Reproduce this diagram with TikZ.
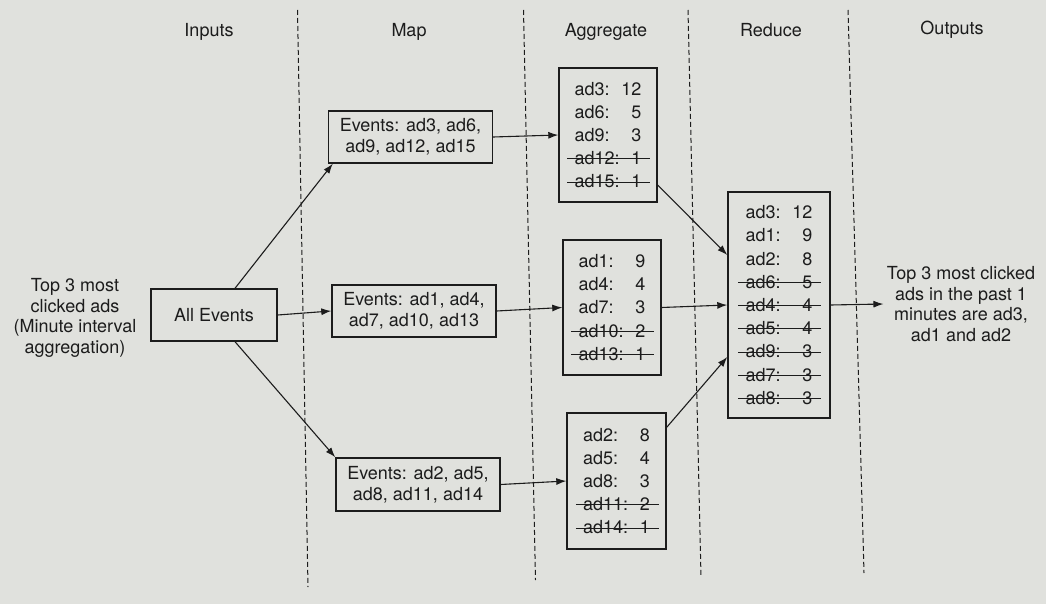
\documentclass[tikz,border=0pt]{standalone}
\usepackage{fontspec}
\setmainfont{TeX Gyre Heros}
\usetikzlibrary{arrows.meta,positioning}
\definecolor{paper}{RGB}{224,225,221}
\definecolor{ink}{RGB}{28,28,28}
% one row of a count table, and the same row struck out
\newcommand{\cnt}[2]{\makebox[2.6em][l]{#1}\makebox[1.12em][r]{#2}}
\newcommand{\cntx}[2]{\makebox[0pt][l]{\hspace{-0.4em}\rule[0.3em]{4.6em}{0.8pt}}\cnt{#1}{#2}}

\begin{document}
\begin{tikzpicture}[x=1pt,y=-1pt,
  every node/.style={text=ink,font=\fontsize{18}{20.7}\selectfont},
  box/.style={draw=ink,line width=1.4pt,inner sep=0pt,align=center},
  tally/.style={box,font=\fontsize{18}{23.2}\selectfont},
  flow/.style={draw=ink,line width=1.1pt,-{Latex[length=10pt,width=7pt]}},
  lane/.style={draw=ink,line width=1pt,dash pattern=on 5pt off 3pt}]
\fill[paper] (0,0) rectangle (1046,604);
% lanes
\foreach \xa/\xb/\yb in {297.5/308/587, 523.5/535.5/580, 688/701/577, 848/864/573}
  \draw[lane] (\xa,10) -- (\xb,\yb);
\node (h1) at (209,32) {Inputs};
\node (h2) at (409,32) {Map};
\node (h3) at (606,32) {Aggregate};
\node (h4) at (771,30) {Reduce};
\node (h5) at (952,30) {Outputs};
% inputs
\node[align=center] (in) at (75,318) {Top 3 most\\clicked ads\\(Minute interval\\aggregation)};
\node[box,minimum width=126pt,minimum height=52pt] (all) at (214,315) {All Events};
% map
\node[box,minimum width=164pt,minimum height=52pt] (m1) at (410.5,137) {Events: ad3, ad6,\\ad9, ad12, ad15};
\node[box,minimum width=164pt,minimum height=52pt] (m2) at (414,311) {Events: ad1, ad4,\\ad7, ad10, ad13};
\node[box,minimum width=164pt,minimum height=53pt] (m3) at (418,484.5) {Events: ad2, ad5,\\ad8, ad11, ad14};
% aggregate
\node[tally,minimum width=98pt,minimum height=134pt] (a1) at (608,135)
  {\cnt{ad3:}{12}\\\cnt{ad6:}{5}\\\cnt{ad9:}{3}\\\cntx{ad12:}{1}\\\cntx{ad15:}{1}};
\node[tally,minimum width=98pt,minimum height=135pt] (a2) at (612,307.5)
  {\cnt{ad1:}{9}\\\cnt{ad4:}{4}\\\cnt{ad7:}{3}\\\cntx{ad10:}{2}\\\cntx{ad13:}{1}};
\node[tally,minimum width=99pt,minimum height=136pt] (a3) at (616.5,481)
  {\cnt{ad2:}{8}\\\cnt{ad5:}{4}\\\cnt{ad8:}{3}\\\cntx{ad11:}{2}\\\cntx{ad14:}{1}};
% reduce
\node[tally,minimum width=102pt,minimum height=226pt] (r) at (779,305)
  {\cnt{ad3:}{12}\\\cnt{ad1:}{9}\\\cnt{ad2:}{8}\\\cntx{ad6:}{5}\\\cntx{ad4:}{4}\\
   \cntx{ad5:}{4}\\\cntx{ad9:}{3}\\\cntx{ad7:}{3}\\\cntx{ad8:}{3}};
% outputs
\node[align=center] (out) at (961,304) {Top 3 most clicked\\ads in the past 1\\minutes are ad3,\\ad1 and ad2};
\draw[flow] ([xshift=21pt]all.north) -- ([xshift=5pt]m1.south west);
\draw[flow] (all.east) -- (m2.west);
\draw[flow] ([xshift=21pt]all.south) -- (m3.north west);
\draw[flow] (m1.east) -- (a1.west);
\draw[flow] (m2.east) -- (a2.west);
\draw[flow] (m3.east) -- (a3.west);
\draw[flow] ([yshift=-50pt]a1.east) -- ([yshift=50pt]r.west);
\draw[flow] (a2.east) -- (r.west);
\draw[flow] ([yshift=-15pt]a3.north east) -- ([yshift=-52pt]r.west);
\draw[flow] (r.east) -- (out.west);
\end{tikzpicture}
\end{document}
